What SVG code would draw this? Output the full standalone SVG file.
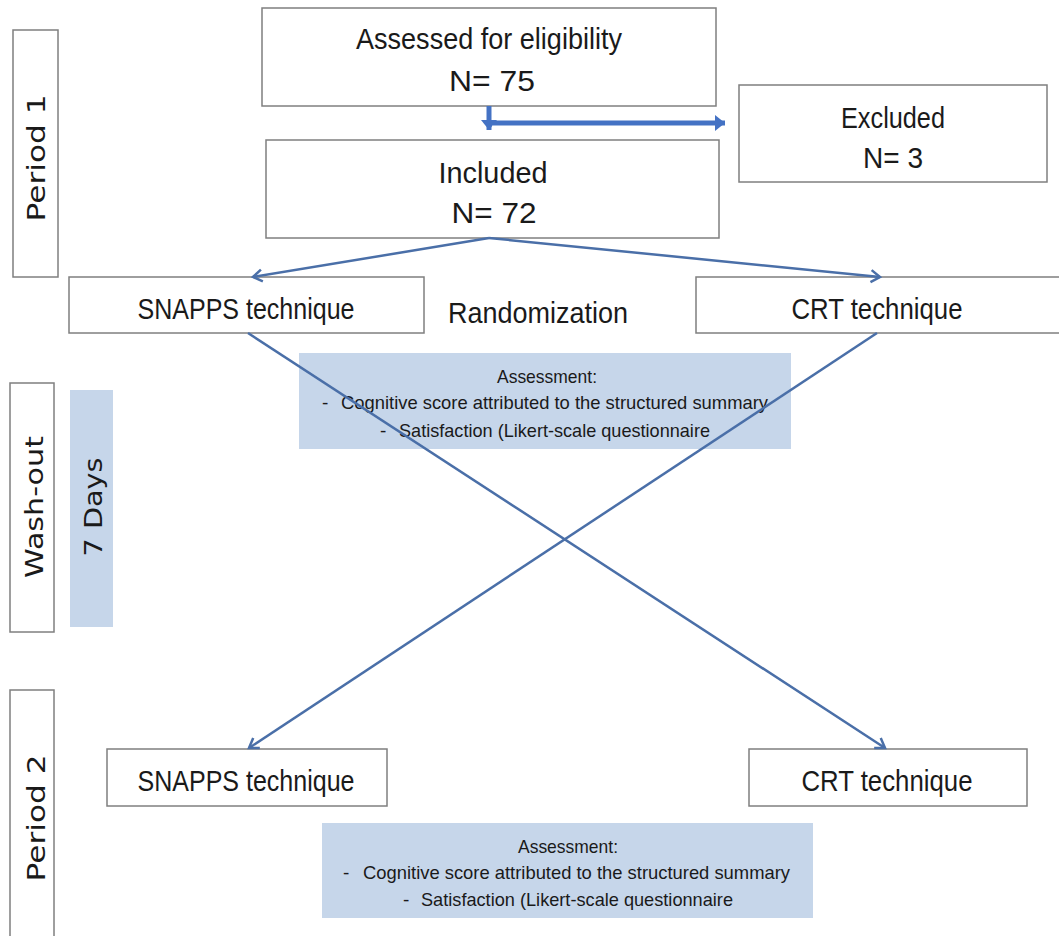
<svg xmlns="http://www.w3.org/2000/svg" width="1059" height="936" viewBox="0 0 1059 936">
<style>
.box{fill:#fff;stroke:#7f7f7f;stroke-width:1.5}
.blue{fill:#c6d6ea;stroke:none}
.t{font-family:"Liberation Sans",Arial,sans-serif;fill:#1a1a1a}
.big{font-size:29px}
.sm{font-size:19px}
.v{font-family:"DejaVu Sans","Liberation Sans",sans-serif;font-size:25px;fill:#1a1a1a}
.thin{stroke:#4a6fa8;stroke-width:2.5;fill:none}
.thick{stroke:#4472c4;stroke-width:5;fill:none}
</style>
<defs>
<marker id="ah" markerUnits="userSpaceOnUse" markerWidth="16" markerHeight="16" refX="12" refY="8" orient="auto">
<path d="M3,2 L12,8 L3,14" fill="none" stroke="#4a6fa8" stroke-width="2.5"/>
</marker>
<marker id="ahb" markerUnits="userSpaceOnUse" markerWidth="14" markerHeight="18" refX="10" refY="9" orient="auto">
<path d="M0,1 L10,9 L0,17 Z" fill="#4472c4"/>
</marker>
</defs>
<rect width="1059" height="936" fill="#fff"/>

<g id="period1"><rect class="box" x="13" y="30" width="45" height="247"/>
<text class="v" transform="translate(45,158) rotate(-90)" text-anchor="middle" textLength="127" lengthAdjust="spacingAndGlyphs">Period 1</text></g>
<g id="washout"><rect class="box" x="10" y="383" width="44" height="249"/>
<text class="v" transform="translate(43,507) rotate(-90)" text-anchor="middle" textLength="142" lengthAdjust="spacingAndGlyphs">Wash-out</text></g>
<g id="days"><rect class="blue" x="70" y="390" width="43" height="237"/>
<text class="v" transform="translate(102,507) rotate(-90)" text-anchor="middle" textLength="99" lengthAdjust="spacingAndGlyphs">7 Days</text></g>
<g id="period2"><rect class="box" x="10" y="690" width="44" height="260"/>
<text class="v" transform="translate(45,818) rotate(-90)" text-anchor="middle" textLength="127" lengthAdjust="spacingAndGlyphs">Period 2</text></g>

<g id="assessed"><rect class="box" x="262" y="8" width="454" height="98"/>
<text class="t big" x="489" y="49" text-anchor="middle" textLength="266" lengthAdjust="spacingAndGlyphs">Assessed for eligibility</text>
<text class="t big" x="492" y="91" text-anchor="middle" textLength="86" lengthAdjust="spacingAndGlyphs">N= 75</text></g>
<g id="included"><rect class="box" x="266" y="140" width="453" height="98"/>
<text class="t big" x="493" y="183" text-anchor="middle" textLength="109" lengthAdjust="spacingAndGlyphs">Included</text>
<text class="t big" x="494" y="223" text-anchor="middle" textLength="85" lengthAdjust="spacingAndGlyphs">N= 72</text></g>
<g id="excluded"><rect class="box" x="739" y="85" width="308" height="97"/>
<text class="t big" x="893" y="128" text-anchor="middle" textLength="104" lengthAdjust="spacingAndGlyphs">Excluded</text>
<text class="t big" x="893" y="168" text-anchor="middle" textLength="60" lengthAdjust="spacingAndGlyphs">N= 3</text></g>

<g id="snapps1"><rect class="box" x="69" y="277" width="355" height="56"/>
<text class="t big" x="246" y="319" text-anchor="middle" textLength="217" lengthAdjust="spacingAndGlyphs">SNAPPS technique</text></g>
<g id="randomization"><text class="t big" x="538" y="323" text-anchor="middle" textLength="180" lengthAdjust="spacingAndGlyphs">Randomization</text></g>
<g id="crt1"><rect class="box" x="696" y="277" width="370" height="56"/>
<text class="t big" x="877" y="319" text-anchor="middle" textLength="171" lengthAdjust="spacingAndGlyphs">CRT technique</text></g>

<g id="assessment1"><rect class="blue" x="299" y="353" width="492" height="96"/>
<text class="t sm" x="547" y="383" text-anchor="middle" textLength="100" lengthAdjust="spacingAndGlyphs">Assessment:</text>
<text class="t sm" x="322" y="409">-</text>
<text class="t sm" x="341" y="409" textLength="427" lengthAdjust="spacingAndGlyphs">Cognitive score attributed to the structured summary</text>
<text class="t sm" x="380" y="437">-</text>
<text class="t sm" x="399" y="437" textLength="311" lengthAdjust="spacingAndGlyphs">Satisfaction (Likert-scale questionnaire</text></g>

<g id="snapps2"><rect class="box" x="107" y="749" width="280" height="57"/>
<text class="t big" x="246" y="791" text-anchor="middle" textLength="217" lengthAdjust="spacingAndGlyphs">SNAPPS technique</text></g>
<g id="crt2"><rect class="box" x="749" y="749" width="278" height="57"/>
<text class="t big" x="887" y="791" text-anchor="middle" textLength="171" lengthAdjust="spacingAndGlyphs">CRT technique</text></g>

<g id="assessment2"><rect class="blue" x="322" y="823" width="491" height="95"/>
<text class="t sm" x="568" y="853" text-anchor="middle" textLength="100" lengthAdjust="spacingAndGlyphs">Assessment:</text>
<text class="t sm" x="343" y="879">-</text>
<text class="t sm" x="363" y="879" textLength="427" lengthAdjust="spacingAndGlyphs">Cognitive score attributed to the structured summary</text>
<text class="t sm" x="403" y="906">-</text>
<text class="t sm" x="421" y="906" textLength="312" lengthAdjust="spacingAndGlyphs">Satisfaction (Likert-scale questionnaire</text></g>

<g id="connectors">
<line class="thick" x1="489" y1="106" x2="489" y2="130" marker-end="url(#ahb)"/>
<line class="thick" x1="493" y1="123" x2="725" y2="123" marker-end="url(#ahb)"/>
<line class="thin" x1="489" y1="238" x2="253" y2="277" marker-end="url(#ah)"/>
<line class="thin" x1="489" y1="238" x2="880" y2="277" marker-end="url(#ah)"/>
<line class="thin" x1="248" y1="333" x2="885" y2="748" marker-end="url(#ah)"/>
<line class="thin" x1="877" y1="333" x2="249" y2="748" marker-end="url(#ah)"/>
</g>
</svg>
